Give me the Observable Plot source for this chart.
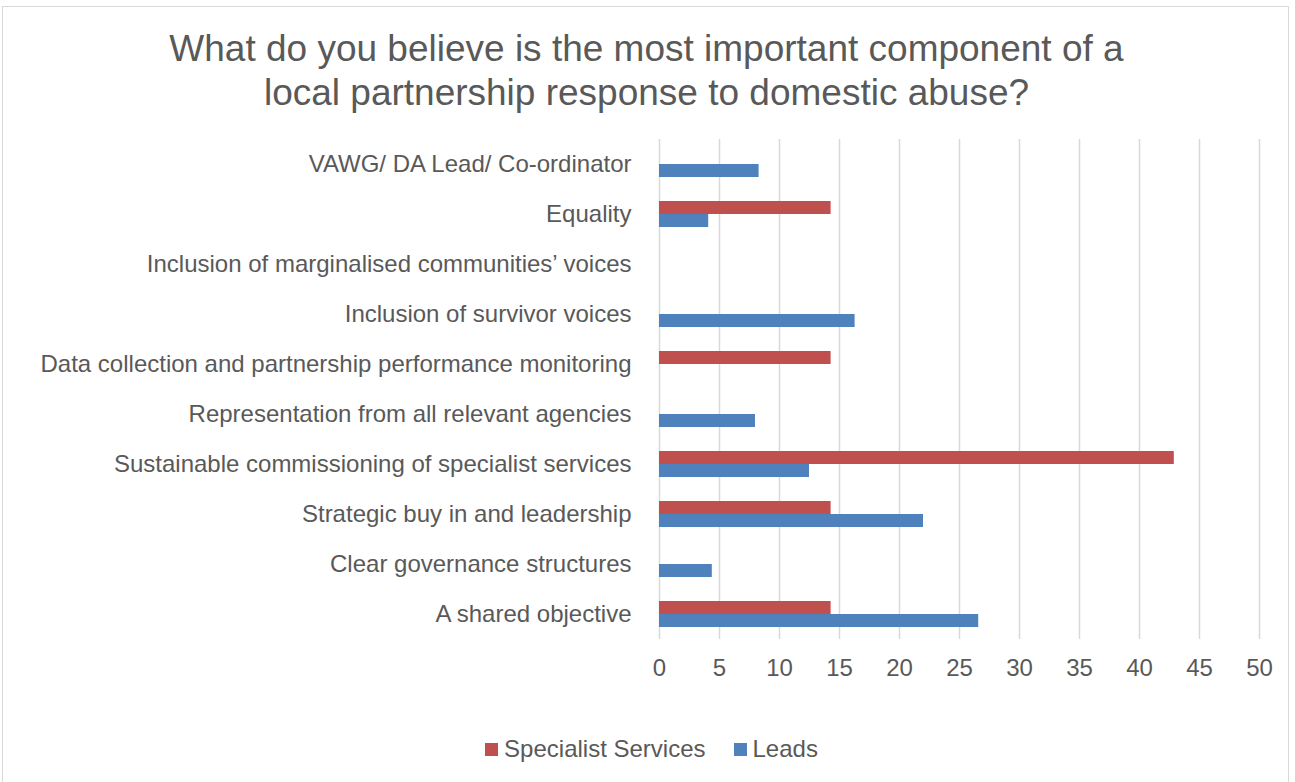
<!DOCTYPE html>
<html><head><meta charset="utf-8">
<script src="https://cdn.jsdelivr.net/npm/d3@7"></script>
<script src="https://cdn.jsdelivr.net/npm/@observablehq/plot@0.6"></script>
<style>
body{margin:0;background:#fff;font-family:"Liberation Sans",Arial,sans-serif;color:#595959;overflow:hidden;}
#frame{position:absolute;left:2px;top:6px;width:1287px;height:790px;border:1px solid #d9d9d9;box-sizing:border-box;}
#title{position:absolute;left:0;top:27px;width:1293px;text-align:center;font-size:37px;line-height:44px;}
#chart{position:absolute;left:0;top:120px;}
#legend{position:absolute;left:3px;top:734px;width:1297px;display:flex;justify-content:center;align-items:center;font-size:24px;line-height:30px;}
.item{display:flex;align-items:center;margin:0 14px;}
.sw{width:13px;height:13px;margin-right:6px;display:inline-block;}
</style>
</head><body>
<div id="frame"></div>
<div id="title">What do you believe is the most important component of a<br>local partnership response to domestic abuse?</div>
<div id="chart"></div>
<div id="legend"></div>
<script>
const categories = [
  "VAWG/ DA Lead/ Co-ordinator",
  "Equality",
  "Inclusion of marginalised communities’ voices",
  "Inclusion of survivor voices",
  "Data collection and partnership performance monitoring",
  "Representation from all relevant agencies",
  "Sustainable commissioning of specialist services",
  "Strategic buy in and leadership",
  "Clear governance structures",
  "A shared objective"
];
const specialist = [0, 14.3, 0, 0, 14.3, 0, 42.9, 14.3, 0, 14.3];
const leads = [8.3, 4.1, 0, 16.3, 0, 8.0, 12.5, 22.0, 4.4, 26.6];
const seriesNames = ["Specialist Services", "Leads"];
const seriesColors = ["#C0504D", "#4F81BD"];
const xTicks = [0, 5, 10, 15, 20, 25, 30, 35, 40, 45, 50];

const specRows = categories.map((c, i) => ({category: c, value: specialist[i]}));
const leadRows = categories.map((c, i) => ({category: c, value: leads[i]}));

const chart = Plot.plot({
  width: 1295,
  height: 569,
  marginLeft: 659,
  marginRight: 36,
  marginTop: 19,
  marginBottom: 50,
  style: {fontFamily: "'Liberation Sans', Arial, sans-serif", fontSize: "24px", color: "#595959", background: "transparent", overflow: "visible"},
  x: {domain: [xTicks[0], xTicks[xTicks.length - 1]], ticks: xTicks, tickSize: 0, tickPadding: 19, tickFormat: d => String(d), label: null},
  y: {domain: categories, padding: 0, tickSize: 0, tickPadding: 28, label: null},
  marks: [
    Plot.ruleX(xTicks, {stroke: "#d9d9d9", strokeWidth: 1.5}),
    Plot.barX(specRows, {x1: 0, x2: "value", y: "category", fill: seriesColors[0], insetTop: 12, insetBottom: 25}),
    Plot.barX(leadRows, {x1: 0, x2: "value", y: "category", fill: seriesColors[1], insetTop: 25, insetBottom: 12})
  ]
});
document.getElementById("chart").appendChild(chart);

const legend = document.getElementById("legend");
seriesNames.forEach((name, i) => {
  const item = document.createElement("div");
  item.className = "item";
  const sw = document.createElement("span");
  sw.className = "sw";
  sw.style.background = seriesColors[i];
  const label = document.createElement("span");
  label.textContent = name;
  item.appendChild(sw);
  item.appendChild(label);
  legend.appendChild(item);
});
</script>
</body></html>
